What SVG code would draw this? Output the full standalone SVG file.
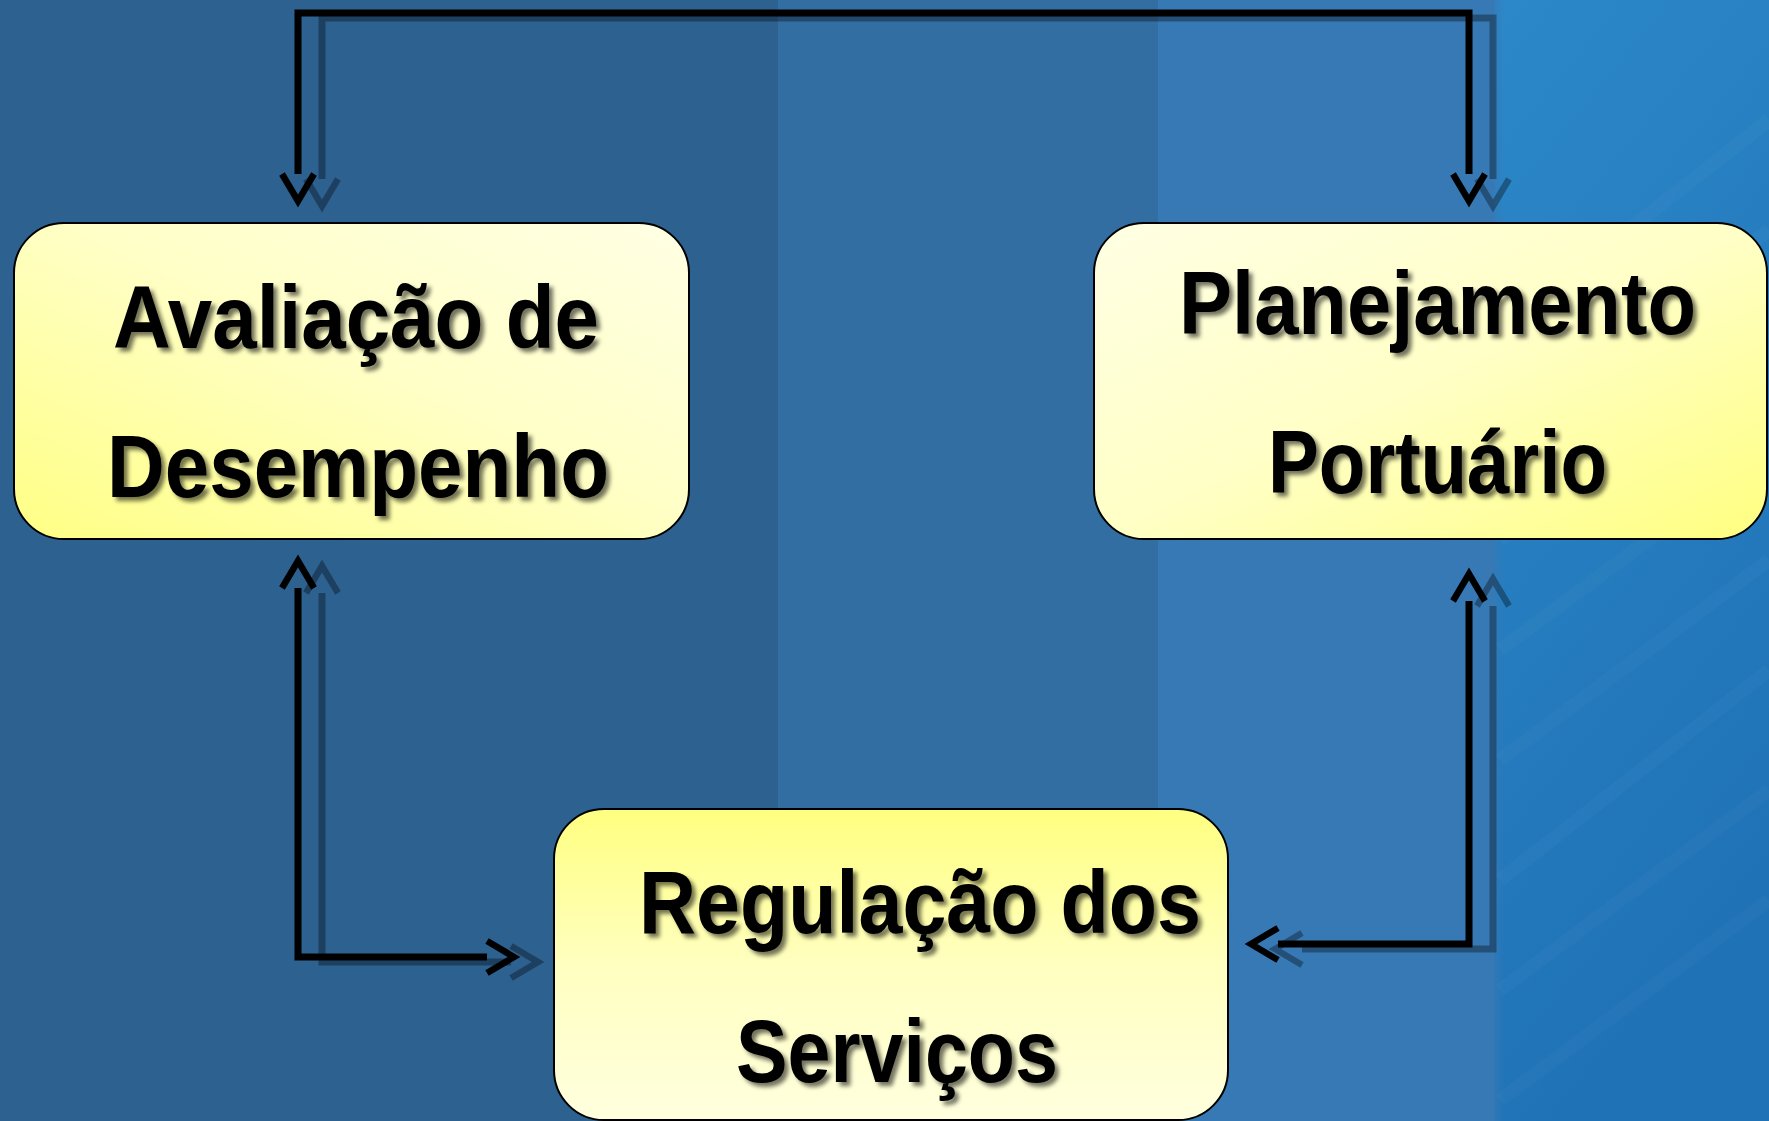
<svg xmlns="http://www.w3.org/2000/svg" xmlns:xlink="http://www.w3.org/1999/xlink" width="1769" height="1121" viewBox="0 0 1769 1121">
  <style>
    .box { stroke: #000; stroke-width: 2; }
    .lbl { font-family: "Liberation Sans", Arial, sans-serif; font-weight: bold; font-size: 89px; fill: #000; filter: url(#tshadow); }
    .conn { fill: none; stroke: #000; stroke-width: 7; stroke-linejoin: miter; }
  </style>
  <defs>
    <linearGradient id="gBox1" x1="0" y1="1" x2="1" y2="0">
      <stop offset="0" stop-color="#ffff84"/>
      <stop offset="0.55" stop-color="#ffffc8"/>
      <stop offset="1" stop-color="#ffffe4"/>
    </linearGradient>
    <linearGradient id="gBox2" x1="0" y1="0" x2="1" y2="1">
      <stop offset="0" stop-color="#ffffe4"/>
      <stop offset="0.5" stop-color="#ffffc6"/>
      <stop offset="1" stop-color="#ffff80"/>
    </linearGradient>
    <linearGradient id="gBox3" x1="0" y1="0" x2="0" y2="1">
      <stop offset="0" stop-color="#ffff80"/>
      <stop offset="0.5" stop-color="#ffffc0"/>
      <stop offset="1" stop-color="#ffffde"/>
    </linearGradient>
    <linearGradient id="gRight" x1="0" y1="0" x2="0.3" y2="1">
      <stop offset="0" stop-color="#2c88c8"/>
      <stop offset="1" stop-color="#1f72b6"/>
    </linearGradient>
    <linearGradient id="gEdge" x1="0" y1="0" x2="1" y2="0">
      <stop offset="0" stop-color="#3779b5"/>
      <stop offset="1" stop-color="#3779b5" stop-opacity="0"/>
    </linearGradient>
    <filter id="tshadow" x="-10%" y="-20%" width="120%" height="150%">
      <feDropShadow dx="4" dy="4" stdDeviation="2" flood-color="#000" flood-opacity="0.55"/>
    </filter>
    <marker id="arr" markerUnits="userSpaceOnUse" viewBox="-5 -25 45 50" refX="0" refY="0" markerWidth="45" markerHeight="50" orient="auto-start-reverse" overflow="visible">
      <path d="M0,-16 L27,0 L0,16" fill="none" stroke="#000" stroke-width="6.5" stroke-linejoin="miter"/>
    </marker>
  </defs>

  <!-- background -->
  <rect x="0" y="0" width="778" height="1121" fill="#2d6190"/>
  <rect x="778" y="0" width="380" height="1121" fill="#336ea2"/>
  <rect x="1158" y="0" width="336" height="1121" fill="#3779b5"/>
  <rect x="1494" y="0" width="275" height="1121" fill="url(#gRight)"/>
  <rect x="1490" y="0" width="14" height="1121" fill="url(#gEdge)"/>
  <g stroke="#ffffff" stroke-opacity="0.025" stroke-width="14" fill="none">
    <path d="M1500,330 L1769,120"/>
    <path d="M1500,430 L1769,230"/>
    <path d="M1500,540 L1769,330"/>
    <path d="M1500,650 L1769,450"/>
    <path d="M1500,760 L1769,560"/>
    <path d="M1500,880 L1769,670"/>
    <path d="M1500,990 L1769,790"/>
    <path d="M1500,1100 L1769,900"/>
  </g>

  <!-- connectors -->
  <g id="connector-shadow" transform="translate(24,5)" opacity="0.33">
    <use xlink:href="#connectors" href="#connectors"/>
  </g>
  <g id="connectors">
    <path class="conn" d="M298,174 V13 H1469 V174" marker-start="url(#arr)" marker-end="url(#arr)"/>
    <path class="conn" d="M298,588 V957 H487" marker-start="url(#arr)" marker-end="url(#arr)"/>
    <path class="conn" d="M1469,601 V944 H1278" marker-start="url(#arr)" marker-end="url(#arr)"/>
  </g>

  <!-- nodes -->
  <g id="node-avaliacao">
    <rect class="box" x="14" y="223" width="675" height="316" rx="50" ry="50" fill="url(#gBox1)"/>
    <text class="lbl" x="113" y="348" textLength="486" lengthAdjust="spacingAndGlyphs">Avaliação de</text>
    <text class="lbl" x="107" y="497" textLength="502" lengthAdjust="spacingAndGlyphs">Desempenho</text>
  </g>
  <g id="node-planejamento">
    <rect class="box" x="1094" y="223" width="673" height="316" rx="50" ry="50" fill="url(#gBox2)"/>
    <text class="lbl" x="1179" y="334" textLength="517" lengthAdjust="spacingAndGlyphs">Planejamento</text>
    <text class="lbl" x="1268" y="493" textLength="339" lengthAdjust="spacingAndGlyphs">Portuário</text>
  </g>
  <g id="node-regulacao">
    <rect class="box" x="554" y="809" width="674" height="311" rx="50" ry="50" fill="url(#gBox3)"/>
    <text class="lbl" x="639" y="933" textLength="562" lengthAdjust="spacingAndGlyphs">Regulação dos</text>
    <text class="lbl" x="736" y="1082" textLength="322" lengthAdjust="spacingAndGlyphs">Serviços</text>
  </g>
</svg>
